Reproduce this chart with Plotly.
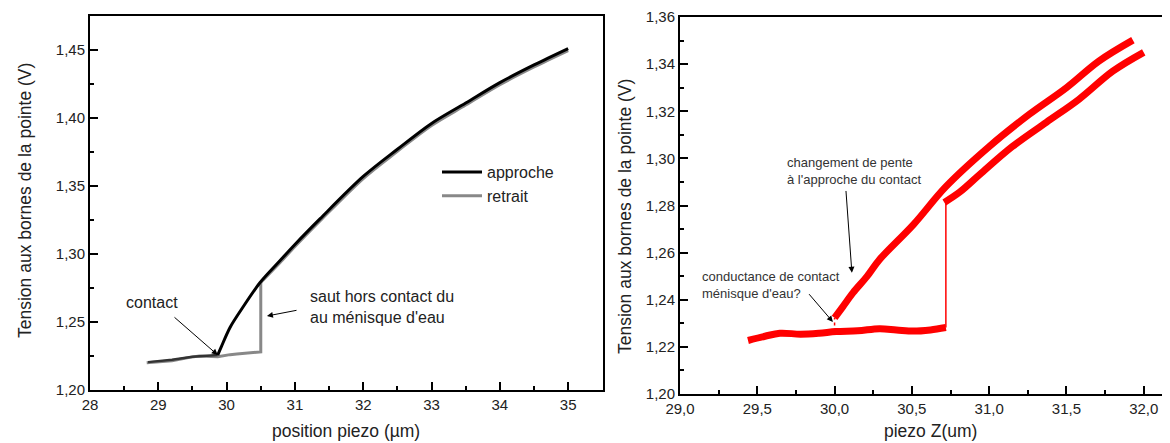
import plotly.graph_objects as go

# ---- Left panel data ----
approche_flat_x = [28.85, 29.2, 29.5, 29.7, 29.87]
approche_flat_y = [1.2205, 1.2222, 1.2245, 1.2250, 1.2257]
approche_x = [29.87, 29.92, 30.05, 30.24, 30.49, 30.78, 31.0, 31.37, 32.0, 32.5, 33.0, 33.5, 34.0, 34.5, 35.0]
approche_y = [1.2257, 1.2315, 1.246, 1.261, 1.279, 1.295, 1.307, 1.326, 1.357, 1.377, 1.396, 1.411, 1.426, 1.439, 1.451]

retrait_x = [35.0, 34.5, 34.0, 33.5, 33.0, 32.5, 32.0, 31.37, 31.0, 30.78, 30.5]
retrait_y = [1.4495, 1.4375, 1.4245, 1.4095, 1.3945, 1.3755, 1.3555, 1.3245, 1.3055, 1.2935, 1.279]
retrait_flat_x = [30.5, 30.5, 30.15, 30.05, 29.87, 29.6, 29.46, 29.2, 28.83]
retrait_flat_y = [1.279, 1.228, 1.2265, 1.226, 1.2245, 1.2250, 1.224, 1.2215, 1.2200]

# ---- Right panel data ----
flat_x = [29.44, 29.55, 29.646, 29.78, 29.9, 30.01, 30.15, 30.29, 30.4, 30.51, 30.62, 30.72]
flat_y = [1.2227, 1.2245, 1.2258, 1.2254, 1.2258, 1.2265, 1.2268, 1.2277, 1.2272, 1.2267, 1.2272, 1.2282]

upper_x = [30.0, 30.054, 30.12, 30.21, 30.29, 30.51, 30.72, 31.0, 31.26, 31.5, 31.71, 31.93]
upper_y = [1.2323, 1.2371, 1.243, 1.2499, 1.257, 1.2719, 1.288, 1.305, 1.3187, 1.330, 1.3413, 1.3502]

lower_x = [30.71, 30.81, 30.94, 31.15, 31.37, 31.58, 31.8, 32.0]
lower_y = [1.2813, 1.2857, 1.2932, 1.305, 1.3153, 1.325, 1.337, 1.345]

jump_x = [30.72, 30.72]
jump_y = [1.2282, 1.2813]
contact_x = [30.0, 30.0]
contact_y = [1.2265, 1.2323]

# page is rendered with an 8px body margin -> figure is offset by 8px
OFF = 8
PAGE_W, PAGE_H = 1170, 443
W, H = PAGE_W - OFF, PAGE_H - OFF
FONT = "Liberation Sans, Arial, sans-serif"


def px_x(p):
    return (p - OFF) / W


def px_y(p):
    return 1 - (p - OFF) / H


fig = go.Figure()

gray = "#888888"
fig.add_trace(go.Scatter(x=retrait_flat_x, y=retrait_flat_y, mode="lines", name="retrait",
                         legendgroup="r", showlegend=False,
                         line=dict(color=gray, width=3), xaxis="x", yaxis="y"))
fig.add_trace(go.Scatter(x=retrait_x, y=retrait_y, mode="lines", name="retrait", legendgroup="r",
                         line=dict(color=gray, width=3, shape="spline", smoothing=0.9),
                         xaxis="x", yaxis="y"))
fig.add_trace(go.Scatter(x=approche_flat_x, y=approche_flat_y, mode="lines", name="approche",
                         legendgroup="a", showlegend=False,
                         line=dict(color="#333333", width=2.5), xaxis="x", yaxis="y"))
fig.add_trace(go.Scatter(x=approche_x, y=approche_y, mode="lines", name="approche", legendgroup="a",
                         line=dict(color="#000000", width=3, shape="spline", smoothing=0.9),
                         xaxis="x", yaxis="y"))

red = "#ff0000"
for xs, ys in [(flat_x, flat_y), (upper_x, upper_y), (lower_x, lower_y)]:
    fig.add_trace(go.Scatter(x=xs, y=ys, mode="lines", showlegend=False,
                             line=dict(color=red, width=7, shape="spline", smoothing=1.0),
                             xaxis="x2", yaxis="y2"))
fig.add_trace(go.Scatter(x=jump_x, y=jump_y, mode="lines", showlegend=False,
                         line=dict(color=red, width=1.5), xaxis="x2", yaxis="y2"))
fig.add_trace(go.Scatter(x=contact_x, y=contact_y, mode="lines", showlegend=False,
                         line=dict(color=red, width=1.5, dash="dot"), xaxis="x2", yaxis="y2"))

tickfont = dict(family=FONT, size=15, color="#222")
common = dict(showgrid=False, zeroline=False, showline=True, linecolor="black", linewidth=2,
              ticks="inside", ticklen=8, tickwidth=1.5, tickcolor="black", tickfont=tickfont,
              automargin=False)

fig.update_layout(
    width=W, height=H, margin=dict(l=0, r=0, t=0, b=0, autoexpand=False),
    paper_bgcolor="white", plot_bgcolor="white", separators=",.",
    font=dict(family=FONT, color="#222"),
    xaxis=dict(domain=[px_x(90), px_x(603)], range=[28, 35.51], dtick=1, tickformat="d",
               mirror=True, anchor="y",
               minor=dict(ticks="inside", ticklen=4, dtick=0.5, tickcolor="black", tickwidth=1.5),
               **common),
    yaxis=dict(domain=[px_y(390), px_y(16)], range=[1.20, 1.475], dtick=0.05, tickformat=".2f",
               mirror=True, anchor="x",
               minor=dict(ticks="inside", ticklen=4, dtick=0.025, tickcolor="black", tickwidth=1.5),
               **common),
    xaxis2=dict(domain=[px_x(680), 1.0], range=[29.0, 32.17], dtick=0.5, tickformat=".1f",
                mirror=True, anchor="y2",
                minor=dict(ticks="inside", ticklen=4, dtick=0.25, tickcolor="black", tickwidth=1.5),
                **common),
    yaxis2=dict(domain=[px_y(394), px_y(17)], range=[1.20, 1.36], dtick=0.02, tickformat=".2f",
                mirror=False, anchor="x2",
                minor=dict(ticks="inside", ticklen=4, dtick=0.01, tickcolor="black", tickwidth=1.5),
                **common),
    legend=dict(x=px_x(437), y=px_y(155), xanchor="left", yanchor="top",
                font=dict(family=FONT, size=16, color="#222"), bgcolor="rgba(0,0,0,0)",
                traceorder="reversed", tracegroupgap=0, itemwidth=40),
)

ann_font = dict(family=FONT, size=16, color="#222")
small_font = dict(family=FONT, size=13, color="#333")
title_font = dict(family=FONT, size=17.5, color="#222")
annotations = [
    # axis titles
    dict(text="Tension aux bornes de la pointe (V)", x=px_x(25), y=px_y(201), xref="paper", yref="paper",
         xanchor="center", yanchor="middle", textangle=-90, showarrow=False, font=title_font),
    dict(text="position piezo (µm)", x=px_x(346), y=0.0, xref="paper", yref="paper",
         xanchor="center", yanchor="bottom", showarrow=False, font=title_font),
    dict(text="Tension aux bornes de la pointe (V)", x=px_x(625), y=px_y(217), xref="paper", yref="paper",
         xanchor="center", yanchor="middle", textangle=-90, showarrow=False, font=title_font),
    dict(text="piezo Z(um)", x=px_x(930), y=0.0, xref="paper", yref="paper", xanchor="center",
         yanchor="bottom", showarrow=False, font=title_font),
    # left annotations
    dict(text="contact", x=28.91, y=1.264, xref="x", yref="y", xanchor="center", yanchor="middle",
         showarrow=False, font=ann_font),
    dict(text="", x=29.87, y=1.2257, ax=29.215, ay=1.2544, xref="x", yref="y", axref="x", ayref="y",
         showarrow=True, arrowhead=2, arrowsize=1.2, arrowwidth=1, arrowcolor="black"),
    dict(text="saut hors contact du<br>au ménisque d'eau", x=31.19, y=1.2607, xref="x", yref="y",
         xanchor="left", yanchor="middle", align="left", showarrow=False, font=ann_font),
    dict(text="", x=30.59, y=1.2544, ax=31.045, ay=1.2588, xref="x", yref="y", axref="x", ayref="y",
         showarrow=True, arrowhead=2, arrowsize=1.2, arrowwidth=1, arrowcolor="black"),
    # right annotations
    dict(text="changement de pente<br>à l'approche du contact", x=29.679, y=1.2947, xref="x2", yref="y2",
         xanchor="left", yanchor="middle", align="left", showarrow=False, font=small_font),
    dict(text="", x=30.112, y=1.2515, ax=30.073, ay=1.2868, xref="x2", yref="y2", axref="x2", ayref="y2",
         showarrow=True, arrowhead=2, arrowsize=1.2, arrowwidth=1, arrowcolor="black"),
    dict(text="conductance de contact<br>ménisque d'eau?", x=29.129, y=1.2464, xref="x2", yref="y2",
         xanchor="left", yanchor="middle", align="left", showarrow=False, font=small_font),
    dict(text="", x=29.989, y=1.2306, ax=29.827, ay=1.243, xref="x2", yref="y2", axref="x2", ayref="y2",
         showarrow=True, arrowhead=2, arrowsize=1.2, arrowwidth=1, arrowcolor="black"),
]
fig.update_layout(annotations=annotations)

fig.write_html("out.html")
